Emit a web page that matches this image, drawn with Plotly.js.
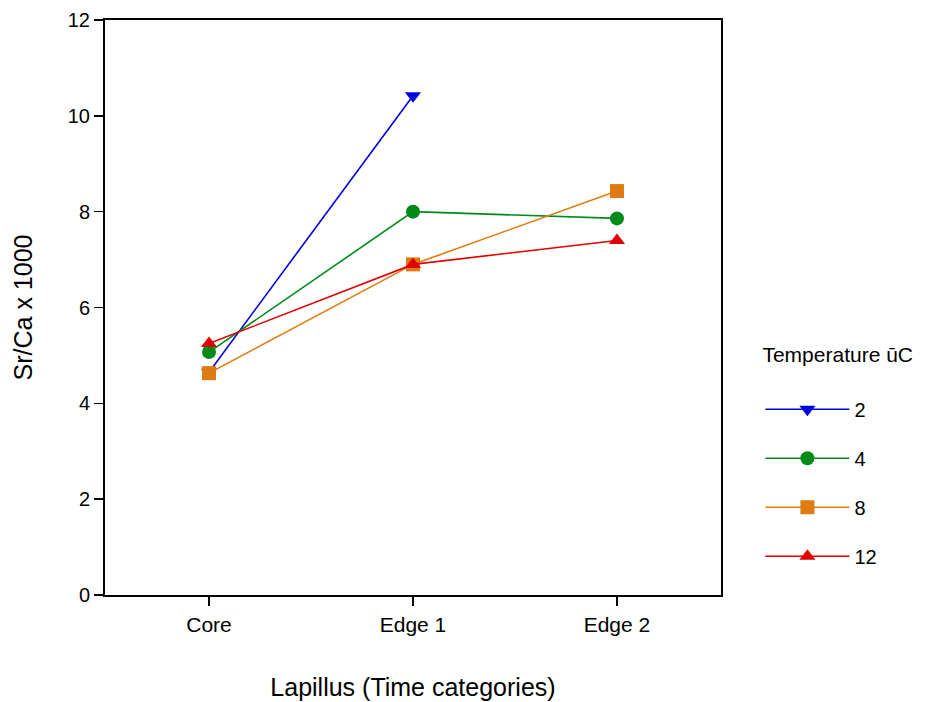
<!DOCTYPE html>
<html>
<head>
<meta charset="utf-8">
<script src="https://cdn.plot.ly/plotly-3.0.1.min.js"></script>
<style>html,body{margin:0;padding:0;background:#fff;}#chart{width:927px;height:702px;}</style>
</head>
<body>
<div id="chart"></div>
<script>
const categories = ["Core", "Edge 1", "Edge 2"];
const seriesNames = ["2", "4", "8", "12"];
const t2 = [4.65, 10.42, null];
const t4 = [5.07, 8.00, 7.86];
const t8 = [4.63, 6.90, 8.43];
const t12 = [5.25, 6.90, 7.40];
const yTicks = [0, 2, 4, 6, 8, 10, 12];

const colors = ["#0000dd", "#008a1a", "#e07b12", "#e00000"];
const symbols = ["triangle-down", "circle", "square", "triangle-up"];
const values = [t2, t4, t8, t12];

const font = "Liberation Sans, Arial, sans-serif";
const traces = values.map((v, i) => ({
  x: categories,
  y: v,
  name: seriesNames[i],
  legendgroup: "g" + i,
  type: "scatter",
  mode: "lines+markers",
  connectgaps: false,
  line: {color: colors[i], width: 1.6},
  marker: {color: colors[i], symbol: symbols[i], size: 14, line: {width: 0}}
}));

const layout = {
  width: 927, height: 702,
  margin: {l: 105, r: 202, t: 20, b: 107},
  paper_bgcolor: "#fff", plot_bgcolor: "#fff",
  font: {family: font, size: 20, color: "#000"},
  showlegend: true,
  legend: {
    x: 1.064, xanchor: "left", y: 0.452, yanchor: "top",
    title: {text: "Temperature ūC<br> ", font: {size: 21}},
    traceorder: "grouped", tracegroupgap: 20,
    itemwidth: 84, font: {size: 20}, bgcolor: "rgba(0,0,0,0)"
  },
  xaxis: {
    type: "category", range: [-0.51, 2.51],
    showline: true, linecolor: "#000", linewidth: 2, mirror: true,
    ticks: "outside", ticklen: 9, tickwidth: 1.5, tickcolor: "#000",
    showgrid: false, zeroline: false,
    tickfont: {size: 21}, ticklabelstandoff: 1,
    title: {text: "Lapillus (Time categories)", font: {size: 25}, standoff: 43}
  },
  yaxis: {
    range: [0, 12], tickvals: yTicks,
    showline: true, linecolor: "#000", linewidth: 2, mirror: true,
    ticks: "outside", ticklen: 9, tickwidth: 1.5, tickcolor: "#000",
    showgrid: false, zeroline: false,
    tickfont: {size: 20},
    title: {text: "Sr/Ca x 1000", font: {size: 25}, standoff: 28}
  }
};

Plotly.newPlot("chart", traces, layout, {displayModeBar: false, staticPlot: true});
</script>
</body>
</html>
